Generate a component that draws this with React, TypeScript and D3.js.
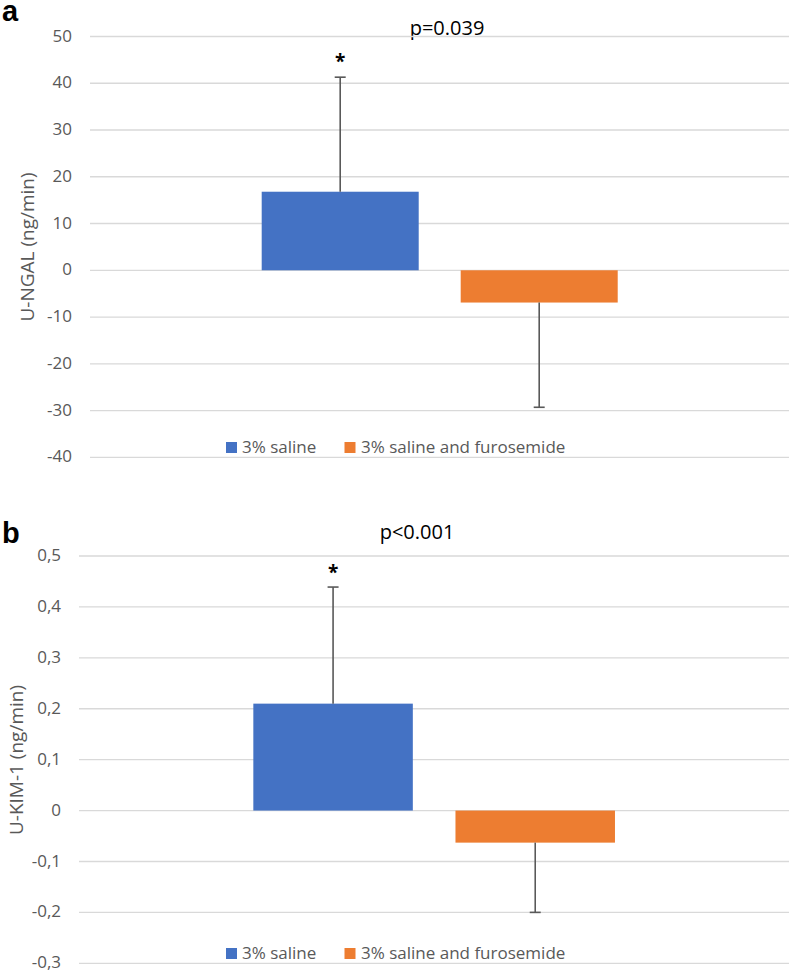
import React from "react";
import * as d3 from "d3";

const seriesNames = ["3% saline", "3% saline and furosemide"];
const seriesColors = ["#4472c4", "#ed7d31"];

const ngalMeans = [16.8, -6.9];
const ngalSD = [24.5, 22.4];
const ngalTicks = [50, 40, 30, 20, 10, 0, -10, -20, -30, -40];

const kimMeans = [0.21, -0.063];
const kimSD = [0.229, 0.137];
const kimTicks = [0.5, 0.4, 0.3, 0.2, 0.1, 0, -0.1, -0.2, -0.3];

const FONT = "'Open Sans', 'DejaVu Sans', sans-serif";

type PanelProps = {
  letter: string;
  letterY: number;
  pText: string;
  pX: number;
  pY: number;
  yTitle: string;
  yTitleX: number;
  yTitleY: number;
  means: number[];
  sds: number[];
  ticks: number[];
  domain: [number, number];
  yRange: [number, number];
  gridX0: number;
  labelX: number;
  barRange: [number, number];
  fmt: (v: number) => string;
  legendY: number;
  starY: number;
};

function Panel(p: PanelProps) {
  const y = d3.scaleLinear().domain(p.domain).range(p.yRange);
  const x = d3
    .scaleBand<string>()
    .domain(seriesNames)
    .range(p.barRange)
    .paddingInner(0.211)
    .paddingOuter(0.1055);
  const bw = x.bandwidth();
  const cap = 5.5;
  return (
    <g>
      <text x={2} y={p.letterY} fontFamily="Arial, 'Liberation Sans', sans-serif" fontWeight="bold" fontSize={29} fill="#000">
        {p.letter}
      </text>
      <text x={p.pX} y={p.pY} fontFamily={FONT} fontSize={20} fill="#000" textAnchor="middle">
        {p.pText}
      </text>
      {p.ticks.map((t) => (
        <g key={t}>
          <line x1={p.gridX0} x2={789} y1={y(t)} y2={y(t)} stroke="#d9d9d9" strokeWidth={1.3} />
          <text x={p.labelX} y={y(t)} dy="0.3em" textAnchor="end" fontFamily={FONT} fontSize={17} fill="#595959">
            {p.fmt(t)}
          </text>
        </g>
      ))}
      <text
        transform={`translate(${p.yTitleX},${p.yTitleY}) rotate(-90)`}
        textAnchor="middle"
        fontFamily={FONT}
        fontSize={19}
        fill="#595959"
      >
        {p.yTitle}
      </text>
      {seriesNames.map((s, i) => {
        const m = p.means[i];
        const x0 = x(s)!;
        const cx = x0 + bw / 2;
        const end = m >= 0 ? m + p.sds[i] : m - p.sds[i];
        return (
          <g key={s}>
            <rect
              x={x0}
              width={bw}
              y={Math.min(y(m), y(0))}
              height={Math.abs(y(m) - y(0))}
              fill={seriesColors[i]}
            />
            <line x1={cx} x2={cx} y1={y(m)} y2={y(end)} stroke="#595959" strokeWidth={1.6} />
            <line x1={cx - cap} x2={cx + cap} y1={y(end)} y2={y(end)} stroke="#595959" strokeWidth={1.6} />
            {m >= 0 && (
              <text x={cx} y={p.starY} textAnchor="middle" fontFamily={FONT} fontWeight="bold" fontSize={19} fill="#000">
                *
              </text>
            )}
          </g>
        );
      })}
      {/* legend */}
      <rect x={226} y={p.legendY - 11} width={11} height={11} fill={seriesColors[0]} />
      <text x={242} y={p.legendY} fontFamily={FONT} fontSize={17} fill="#595959">
        {seriesNames[0]}
      </text>
      <rect x={344.5} y={p.legendY - 11} width={11} height={11} fill={seriesColors[1]} />
      <text x={361} y={p.legendY} fontFamily={FONT} fontSize={17} fill="#595959">
        {seriesNames[1]}
      </text>
    </g>
  );
}

const fmtA = (v: number) => String(v);
const fmtB = (v: number) => (v === 0 ? "0" : v.toFixed(1).replace(".", ","));

export default function App() {
  return (
    <div style={{ position: "absolute", left: 0, top: 0 }}>
      <svg width={789} height={972} style={{ display: "block", background: "#fff" }}>
        <Panel
          letter="a"
          letterY={21}
          pText="p=0.039"
          pX={447}
          pY={35}
          yTitle="U-NGAL (ng/min)"
          yTitleX={34}
          yTitleY={247}
          means={ngalMeans}
          sds={ngalSD}
          ticks={ngalTicks}
          domain={[-40, 50]}
          yRange={[457.3, 36.5]}
          gridX0={90}
          labelX={72}
          barRange={[240.7, 638.7]}
          fmt={fmtA}
          legendY={453}
          starY={68}
        />
        <Panel
          letter="b"
          letterY={543}
          pText="p<0.001"
          pX={417}
          pY={539}
          yTitle="U-KIM-1 (ng/min)"
          yTitleX={23}
          yTitleY={760}
          means={kimMeans}
          sds={kimSD}
          ticks={kimTicks}
          domain={[-0.3, 0.5]}
          yRange={[963.3, 556]}
          gridX0={79}
          labelX={61}
          barRange={[232, 636.3]}
          fmt={fmtB}
          legendY={959}
          starY={579}
        />
      </svg>
    </div>
  );
}
